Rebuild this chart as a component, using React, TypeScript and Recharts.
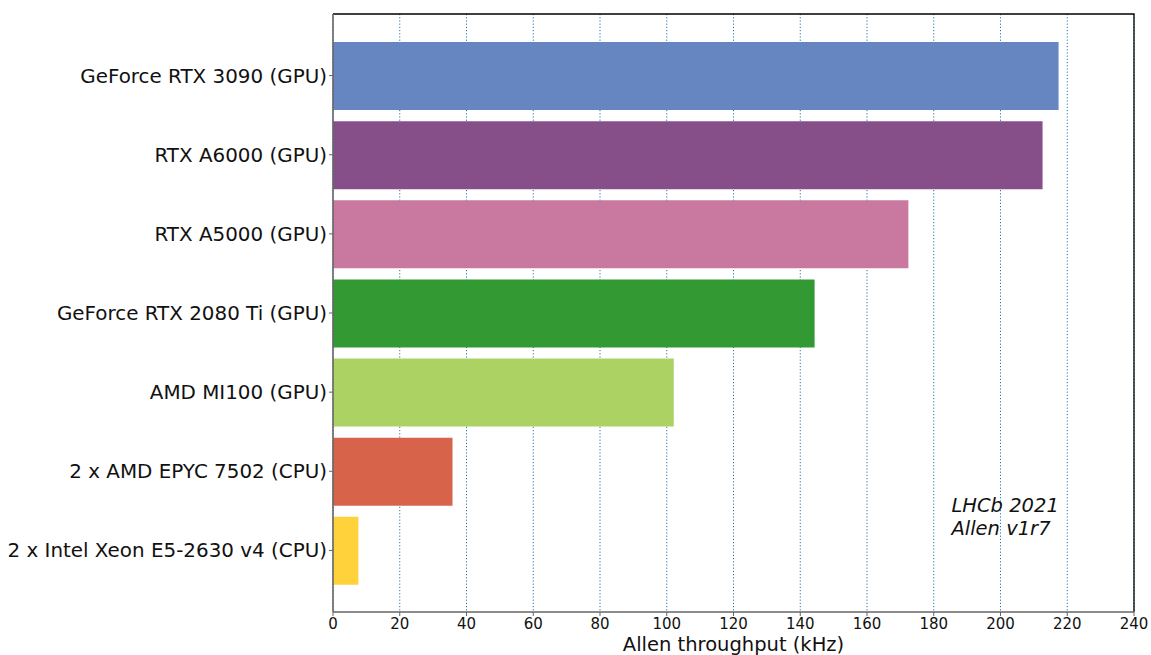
import { BarChart, Bar, XAxis, YAxis, CartesianGrid, Cell, ReferenceDot, ReferenceArea } from "recharts";

const devices = [
  "GeForce RTX 3090 (GPU)",
  "RTX A6000 (GPU)",
  "RTX A5000 (GPU)",
  "GeForce RTX 2080 Ti (GPU)",
  "AMD MI100 (GPU)",
  "2 x AMD EPYC 7502 (CPU)",
  "2 x Intel Xeon E5-2630 v4 (CPU)",
];
const throughput = [217.4, 212.6, 172.4, 144.3, 102.1, 35.8, 7.6];
const colors = ["#6586c0", "#874f8a", "#c9799f", "#339933", "#abd263", "#d6634a", "#ffd23c"];
const xTicks = [0, 20, 40, 60, 80, 100, 120, 140, 160, 180, 200, 220, 240];

const data = devices.map((name, i) => ({ name, value: throughput[i] }));

const font = "'DejaVu Sans', sans-serif";

function Note(props: any) {
  const { cx, cy } = props;
  return (
    <text fontFamily={font} fontStyle="italic" fontSize={19.5} fill="#111">
      <tspan x={cx} y={cy - 38}>LHCb 2021</tspan>
      <tspan x={cx} y={cy - 15}>Allen v1r7</tspan>
    </text>
  );
}

export default function App() {
  return (
    <div style={{ position: "absolute", left: 0, top: 0, background: "#fff" }}>
      <BarChart
        width={1151}
        height={655}
        data={data}
        layout="vertical"
        margin={{ top: 14, right: 17, bottom: 0, left: 0 }}
      >
        <CartesianGrid
          horizontal={false}
          stroke="#1f77b4"
          strokeDasharray="1.2 2"
          strokeWidth={1}
        />
        <XAxis
          type="number"
          domain={[0, 240]}
          ticks={xTicks}
          interval={0}
          height={43}
          axisLine={{ stroke: "#666", strokeWidth: 1.6 }}
          tickLine={{ stroke: "#666" }}
          tickSize={4}
          tick={{ fontSize: 15, fill: "#111", fontFamily: font }}
          label={{
            value: "Allen throughput (kHz)",
            position: "insideBottom",
            offset: 4,
            style: { fontSize: 19.5, fill: "#111", fontFamily: font },
          }}
        />
        <YAxis
          type="category"
          dataKey="name"
          width={333}
          padding={{ top: 22, bottom: 22 }}
          axisLine={{ stroke: "#666", strokeWidth: 1.6 }}
          tickLine={{ stroke: "#666" }}
          tickSize={4}
          tick={{ fontSize: 19.9, fill: "#111", fontFamily: font }}
        />
        <YAxis
          yAxisId="frame"
          orientation="right"
          type="category"
          dataKey="name"
          width={0}
          tick={false}
          tickLine={false}
          axisLine={{ stroke: "#000", strokeWidth: 1.3 }}
        />
        <Bar dataKey="value" barSize={68} isAnimationActive={false}>
          {data.map((d, i) => (
            <Cell key={d.name} fill={colors[i]} />
          ))}
        </Bar>
        {/* top + right spines only: dash covers the first two sides of the rect path */}
        <ReferenceArea
          yAxisId="frame"
          x1={0}
          x2={240}
          fill="none"
          stroke="#000"
          strokeWidth={1.3}
          strokeDasharray="1399 1399"
        />
        <ReferenceDot
          x={185.3}
          y={devices[6]}
          r={0}
          stroke="none"
          fill="none"
          shape={(p: any) => <Note {...p} />}
        />
      </BarChart>
    </div>
  );
}
